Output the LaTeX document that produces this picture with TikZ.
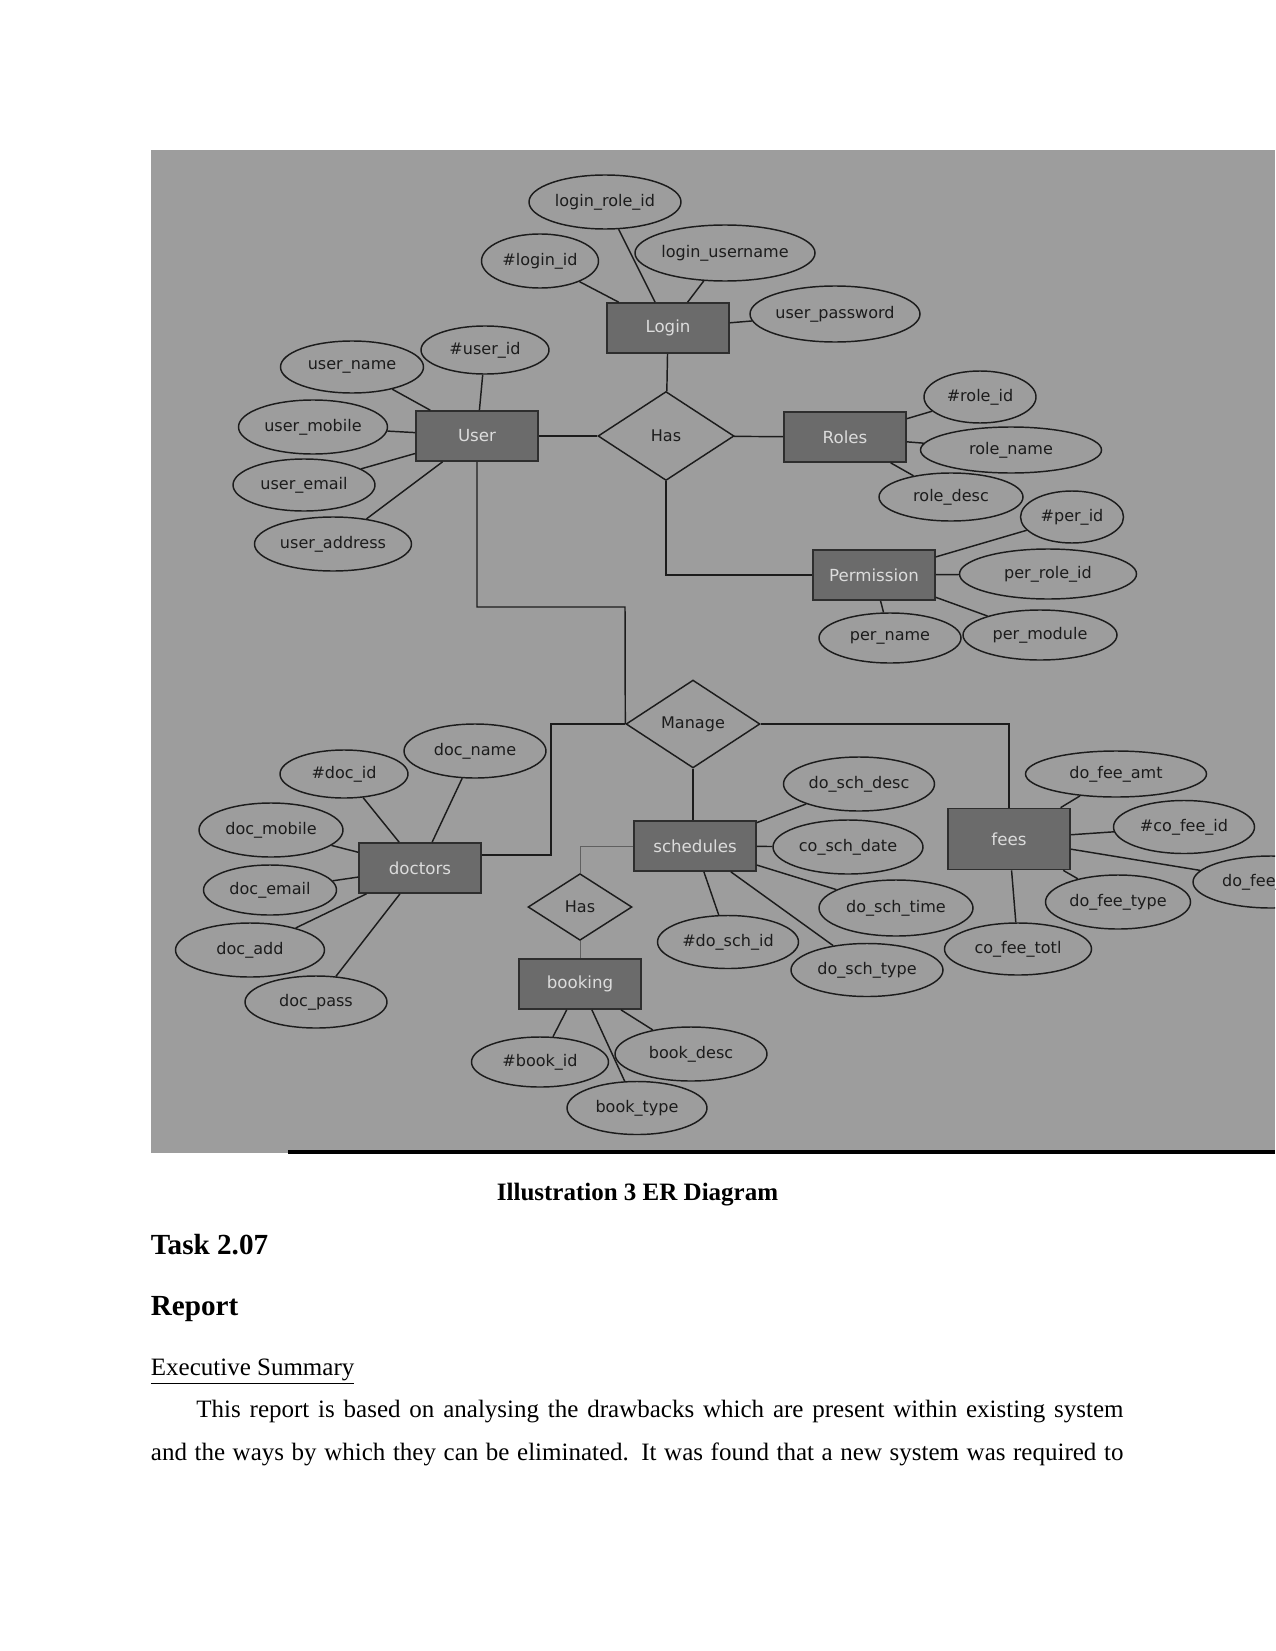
\documentclass[tikz,border=0pt]{standalone}
\usepackage{fontspec}
\setmainfont{Liberation Serif}
\newfontfamily\erfont{DejaVu Sans}
\usepackage{tikz}
\usetikzlibrary{shapes.geometric}
\definecolor{erback}{HTML}{9D9D9D}
\definecolor{erfill}{HTML}{6B6B6B}
\definecolor{erframe}{HTML}{2E2E2E}
\definecolor{ertext}{HTML}{DCDCDC}
\definecolor{erink}{HTML}{1C1C1C}

\begin{document}
\begin{tikzpicture}[x=0.48pt,y=-0.48pt,
  entity/.style={draw=erframe,fill=erfill,line width=0.8pt,minimum width=58.5pt,minimum height=24pt,inner sep=0pt,text=ertext,font=\erfont\fontsize{8}{9}\selectfont},
  attr/.style={ellipse,draw=erink,line width=0.7pt,inner sep=0pt,text=erink,font=\erfont\fontsize{7.7}{9}\selectfont},
  rel/.style={diamond,draw=erink,line width=0.7pt,inner sep=0pt,text=erink,font=\erfont\fontsize{7.7}{9}\selectfont},
  link/.style={draw=erink,line width=0.7pt},
  faint/.style={draw=erink!70,line width=0.45pt},
  pagetext/.style={inner sep=0pt,font=\fontsize{12}{14}\selectfont},
  heading/.style={anchor=base west,inner sep=0pt,font=\fontsize{14}{17}\bfseries\selectfont}]
  \useasboundingbox (0,0) rectangle (1275,1651);

  % the ER picture
  \begin{scope}
    \clip (150.5,150.5) rectangle (1275,1153);
    \fill[erback] (150.5,150.5) rectangle (1275,1153);
    \fill[black] (288,1150) rectangle (1275,1154);

    % entities
    \node[entity] (login) at (668,328) {Login};
    \node[entity] (user) at (477,436) {User};
    \node[entity] (roles) at (845,437) {Roles};
    \node[entity] (perm) at (874,575) {Permission};
    \node[entity] (doctors) at (420,868) {doctors};
    \node[entity] (sched) at (695,846) {schedules};
    \node[entity,minimum height=29.3pt] (fees) at (1009,839) {fees};
    \node[entity] (booking) at (580,984) {booking};

    % relationships
    \node[rel,minimum width=65.3pt,minimum height=42.7pt] (has) at (666,436) {Has};
    \node[rel,minimum width=64.3pt,minimum height=42.2pt] (manage) at (693,724) {Manage};
    \node[rel,minimum width=49.9pt,minimum height=32pt] (hasb) at (580,907) {Has};

    % attributes: name/x/y/width/height/label
    \foreach \n/\x/\y/\w/\h/\t in {
      lrid/605/202/152/54/login\_role\_id, lid/540/261/117/54/\#login\_id,
      luname/725/253/174/56/login\_username, upass/835/314/170/56/user\_password,
      uid/485/350/128/48/\#user\_id, uname/352/367/143/52/user\_name,
      umob/313/427/149/54/user\_mobile, uemail/304/485/142/52/user\_email,
      uaddr/333/544/157/54/user\_address,
      rid/980/397/112/52/\#role\_id, rname/1011/450/181/46/role\_name,
      rdesc/951/497/144/48/role\_desc,
      pid/1072/517/103/52/\#per\_id, prid/1048/574/177/50/per\_role\_id,
      pname/890/638/142/50/per\_name, pmod/1040/635/154/50/per\_module,
      did/344/774/128/48/\#doc\_id, dname/475/751/142/54/doc\_name,
      dmob/271/830/144/54/doc\_mobile, demail/270/890/133/50/doc\_email,
      dadd/250/950/149/54/doc\_add, dpass/316/1002/142/52/doc\_pass,
      sdesc/859/784/151/54/do\_sch\_desc, sdate/848/847/150/54/co\_sch\_date,
      stime/896/908/154/56/do\_sch\_time, sid/728/942/141/53/\#do\_sch\_id,
      stype/867/970/152/53/do\_sch\_type,
      famt/1116/774/181/46/do\_fee\_amt, fid/1184/827/141/53/\#co\_fee\_id,
      ftype/1118/902/145/54/do\_fee\_type, ftotl/1018/949/147/52/co\_fee\_totl,
      fmore/1271/882/156/52/do\_fee\_\hphantom{date},
      bid/540/1062/137/50/\#book\_id, bdesc/691/1054/152/54/book\_desc,
      btype/637/1108/140/53/book\_type}
      \node[attr,minimum width=\w*0.48pt,minimum height=\h*0.48pt] (\n) at (\x,\y) {\t};

    \foreach \a/\e in {lrid/login,lid/login,luname/login,upass/login,
      uid/user,uname/user,umob/user,uemail/user,uaddr/user,
      rid/roles,rname/roles,rdesc/roles,
      pid/perm,prid/perm,pname/perm,pmod/perm,
      did/doctors,dname/doctors,dmob/doctors,demail/doctors,dadd/doctors,dpass/doctors,
      sdesc/sched,sdate/sched,stime/sched,sid/sched,stype/sched,
      famt/fees,fid/fees,ftype/fees,ftotl/fees,fmore/fees,
      bid/booking,bdesc/booking,btype/booking}
      \draw[link] (\a) -- (\e);

    % relationship lines
    \coordinate (ujoin) at (625,607);
    \coordinate (djoin) at (551,855);
    \draw[link] (login) -- (has);
    \draw[link] (user) -- (has);
    \draw[link] (has) -- (roles);
    \draw[link] (has) |- (perm);
    \draw[link] (user) |- (ujoin) -- (manage.west);
    \draw[link] (doctors.east |- djoin) -- (djoin) |- (manage.west);
    \draw[link] (manage) -| (fees);
    \draw[link] (manage.south) -- (manage.south |- sched.north);
    \draw[faint] (sched) -| (hasb);
    \draw[faint] (hasb) -- (booking);
  \end{scope}

  % page text
  \node[pagetext,anchor=base,font=\fontsize{12}{14}\bfseries\selectfont] (caption) at (637.5,1200) {Illustration 3 ER Diagram};
  \node[heading] (task) at (150.5,1254) {Task 2.07};
  \node[heading] (report) at (150.5,1315.5) {Report};
  \node[pagetext,anchor=base west] (summary) at (150.5,1375) {\underline{Executive Summary}};
  \node[pagetext,anchor=base west] (lineA) at (196,1417.5) {\makebox[445pt][s]{This report is based on analysing the drawbacks which are present within existing system}};
  \node[pagetext,anchor=base west] (lineB) at (150.5,1460.5) {\makebox[466.8pt][s]{and the ways by which they can be eliminated. It was found that a new system was required to}};
\end{tikzpicture}
\end{document}
